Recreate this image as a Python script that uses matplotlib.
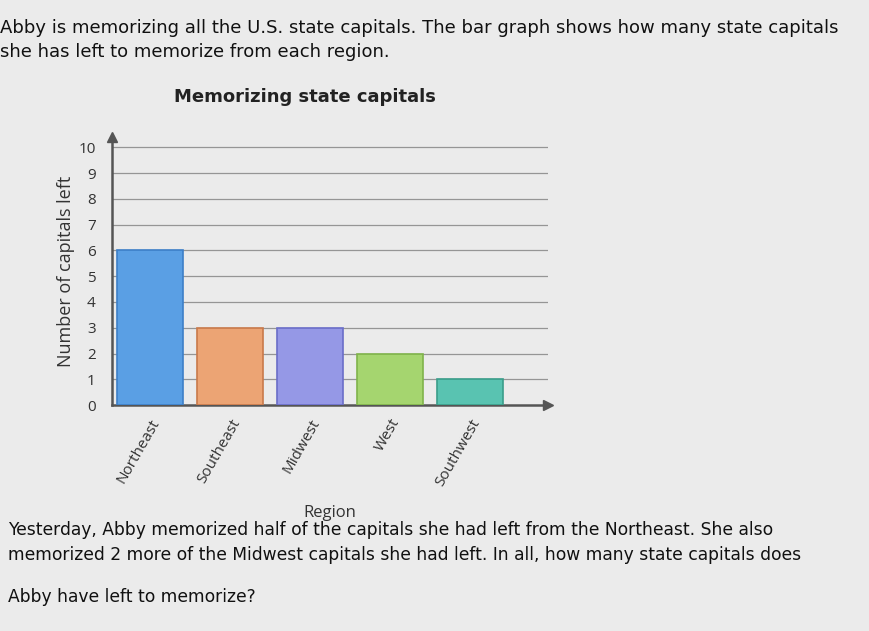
import matplotlib
matplotlib.use("Agg")
import matplotlib.pyplot as plt
import numpy as np

regions = ["Northeast", "Southeast", "Midwest", "West", "Southwest"]
capitals_left = [6, 3, 3, 2, 1]
y_ticks = [0, 1, 2, 3, 4, 5, 6, 7, 8, 9, 10]

bar_colors = ["#5a9fe4", "#eca474", "#9598e6", "#a5d56f", "#59c3b1"]
edge_colors = ["#3d7fc8", "#c9794a", "#6a6dc8", "#7fb34a", "#3a9d8a"]

intro = ["Abby is memorizing all the U.S. state capitals. The bar graph shows how many state capitals",
         "she has left to memorize from each region."]
question = ["Yesterday, Abby memorized half of the capitals she had left from the Northeast. She also",
            "memorized 2 more of the Midwest capitals she had left. In all, how many state capitals does",
            "Abby have left to memorize?"]

bg = "#ebebeb"
fig = plt.figure(figsize=(8.7, 6.31), dpi=100, facecolor=bg)
ax = fig.add_axes([0.129, 0.358, 0.501, 0.425])
ax.set_facecolor(bg)

x = np.arange(len(regions))
ax.bar(x, capitals_left, width=0.82, color=bar_colors, edgecolor=edge_colors, linewidth=1.2, zorder=3)

ax.set_xlim(-0.475, 4.975)
ax.set_ylim(0, 10.4)
ax.set_yticks(y_ticks)
ax.set_yticklabels([str(t) for t in y_ticks], fontsize=11, color="#333333", fontfamily="Open Sans")
for t in y_ticks[1:]:
    ax.axhline(t, color="#959595", linewidth=0.9, zorder=1)

ax.set_xticks(x)
ax.set_xticklabels(regions, rotation=60, ha="right", rotation_mode="anchor",
                   fontsize=11, color="#333333", fontfamily="Open Sans")
ax.tick_params(axis="x", length=0, pad=8)
ax.tick_params(axis="y", length=0, pad=12)

for s in ["top", "right"]:
    ax.spines[s].set_visible(False)
for s in ["left", "bottom"]:
    ax.spines[s].set_color("#555555")
    ax.spines[s].set_linewidth(1.8)
ax.plot(0, 1, "^", color="#555555", markersize=7, transform=ax.transAxes, clip_on=False, zorder=5)
ax.plot(1, 0, ">", color="#555555", markersize=7, transform=ax.transAxes, clip_on=False, zorder=5)

ax.set_ylabel("Number of capitals left", fontsize=13, color="#333333", fontfamily="Open Sans", labelpad=2)
ax.set_xlabel("Region", fontsize=12, color="#333333", fontfamily="Open Sans", labelpad=12)

fig.text(305 / 870, 1 - 97 / 631, "Memorizing state capitals", ha="center", va="center",
         fontsize=13, fontweight="bold", color="#222222")

for i, line in enumerate(intro):
    fig.text(0 / 870, 1 - (28 + 24 * i) / 631, line, ha="left", va="center", fontsize=13, color="#111111")
q_y = [530, 555, 597]
for line, yy in zip(question, q_y):
    fig.text(8 / 870, 1 - yy / 631, line, ha="left", va="center", fontsize=12.3, color="#111111")

fig.savefig("out.png", dpi=100, facecolor=bg)
